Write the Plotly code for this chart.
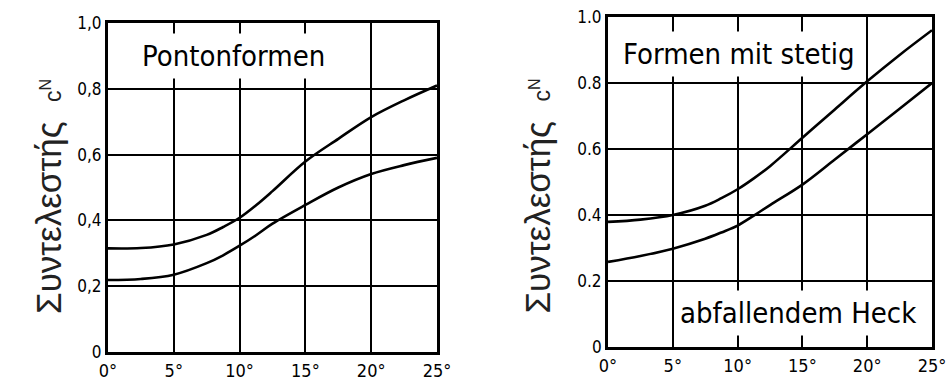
import plotly.graph_objects as go

# Angle (degrees)
angles = [0, 2.5, 5, 7.5, 8.75, 10, 11.25, 12.5, 15, 17.5, 20, 22.5, 25]

# Left panel: Pontonformen
ponton_upper = [0.315, 0.316, 0.327, 0.356, 0.38, 0.408, 0.446, 0.489, 0.579, 0.648, 0.714, 0.765, 0.81]
ponton_lower = [0.219, 0.222, 0.235, 0.27, 0.294, 0.323, 0.355, 0.39, 0.447, 0.5, 0.541, 0.568, 0.59]

# Right panel: Formen mit stetig abfallendem Heck
heck_upper = [0.379, 0.386, 0.4, 0.428, 0.451, 0.478, 0.511, 0.548, 0.634, 0.72, 0.805, 0.885, 0.96]
heck_lower = [0.258, 0.276, 0.298, 0.328, 0.347, 0.368, 0.398, 0.43, 0.492, 0.568, 0.645, 0.722, 0.8]

x_ticks = [0, 5, 10, 15, 20, 25]
x_ticklabels = ["0°", "5°", "10°", "15°", "20°", "25°"]
y_ticks = [0, 0.2, 0.4, 0.6, 0.8, 1.0]
y_ticklabels_left = ["0", "0,2", "0,4", "0,6", "0,8", "1,0"]
y_ticklabels_right = ["0", "0.2", "0.4", "0.6", "0.8", "1.0"]

y_title = "Συντελεστής&nbsp; <span style='font-size:23px'>c<sup>N</sup></span>"
label_left = "Pontonformen"
label_right_top = "Formen mit stetig"
label_right_bottom = "abfallendem Heck"

NARROW = "DejaVu Sans Condensed, Liberation Sans Narrow, Roboto Condensed, sans-serif"

fig = go.Figure()
line = dict(color="black", width=2.6, shape="spline", smoothing=1.0)
fig.add_trace(go.Scatter(x=angles, y=ponton_upper, mode="lines", line=line, xaxis="x", yaxis="y", showlegend=False))
fig.add_trace(go.Scatter(x=angles, y=ponton_lower, mode="lines", line=line, xaxis="x", yaxis="y", showlegend=False))
fig.add_trace(go.Scatter(x=angles, y=heck_upper, mode="lines", line=line, xaxis="x2", yaxis="y2", showlegend=False))
fig.add_trace(go.Scatter(x=angles, y=heck_lower, mode="lines", line=line, xaxis="x2", yaxis="y2", showlegend=False))

xcommon = dict(range=[0, 25], tickvals=x_ticks, ticktext=x_ticklabels, showgrid=True, gridcolor="black",
               gridwidth=2, showline=True, mirror=True, linecolor="black", linewidth=3, zeroline=False,
               ticks="", automargin=False, tickfont=dict(family=NARROW, size=18, color="black"),
               fixedrange=True)
ycommon = dict(range=[0, 1.0], tickvals=y_ticks, showgrid=True, gridcolor="black",
               gridwidth=2, showline=True, mirror=True, linecolor="black", linewidth=3, zeroline=False,
               ticks="", automargin=False, tickfont=dict(family=NARROW, size=17, color="black"),
               fixedrange=True)

fig.update_layout(
    width=949, height=389,
    margin=dict(l=0, r=0, t=0, b=0, autoexpand=False),
    paper_bgcolor="white", plot_bgcolor="white",
    xaxis=dict(domain=[0.1138, 0.4605], anchor="y", **xcommon),
    yaxis=dict(domain=[0.0951, 0.9409], anchor="x", ticktext=y_ticklabels_left, **ycommon),
    xaxis2=dict(domain=[0.6407, 0.9821], anchor="y2", **xcommon),
    yaxis2=dict(domain=[0.108, 0.9563], anchor="x2", ticktext=y_ticklabels_right, **ycommon),
)

box = dict(showarrow=False, bgcolor="white", borderpad=5,
           font=dict(family=NARROW, size=29, color="black"))
fig.add_annotation(x=9.5, y=0.9, xref="x", yref="y", text=label_left, **box)
fig.add_annotation(x=10.07, y=0.889, xref="x2", yref="y2", text=label_right_top, **box)
fig.add_annotation(x=14.7, y=0.103, xref="x2", yref="y2", text=label_right_bottom, **box)

title_font = dict(family="Liberation Sans, Arial, sans-serif", size=35, color="#222")
fig.add_annotation(x=0.0285, y=0.495, xref="paper", yref="paper", text=y_title, textangle=-90,
                   showarrow=False, font=title_font)
fig.add_annotation(x=0.566, y=0.495, xref="paper", yref="paper", text=y_title, textangle=-90,
                   showarrow=False, font=title_font)

fig.write_html("out.html", config={"displayModeBar": False},
               post_script="document.body.style.margin='0px';")
